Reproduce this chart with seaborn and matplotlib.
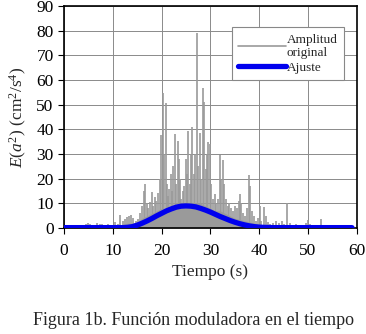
import numpy as np
import pandas as pd
import matplotlib
matplotlib.use('Agg')
import matplotlib.pyplot as plt
import seaborn as sns
from matplotlib.lines import Line2D

# picos de la amplitud original (tiempo s, E(a^2))
pico_t = [1.2, 2.5, 3.8, 4.6, 5.0, 5.4, 6.3, 6.8, 7.3, 7.8, 8.4, 9.1, 9.8, 10.4, 11.0,
          11.5, 12.1, 12.5, 12.9, 13.3, 13.7, 14.2, 14.7, 15.2, 15.6, 16.0, 16.3, 16.6,
          16.9, 17.3, 17.7, 18.0, 18.3, 18.6, 18.9, 19.3, 19.6, 19.9, 20.2, 20.5, 20.8,
          21.1, 21.4, 21.6, 21.9, 22.2, 22.4, 22.7, 23.0, 23.3, 23.5, 23.7, 24.0, 24.3,
          24.6, 24.9, 25.2, 25.5, 25.8, 26.0, 26.3, 26.6, 26.9, 27.2, 27.5, 27.9, 28.1,
          28.4, 28.7, 29.0, 29.3, 29.6, 29.9, 30.2, 30.5, 30.9, 31.2, 31.6, 32.0, 32.2,
          32.5, 32.8, 33.1, 33.5, 33.9, 34.3, 34.7, 35.0, 35.4, 35.8, 36.0, 36.3, 36.7,
          37.1, 37.5, 37.9, 38.2, 38.5, 38.9, 39.3, 39.7, 40.1, 40.4, 40.9, 41.3, 41.8,
          42.3, 42.8, 43.5, 44.1, 44.7, 45.1, 45.6, 46.2, 46.8, 47.5, 48.2, 48.9, 49.5,
          50.0, 50.5, 51.2, 51.9, 52.6, 53.2, 53.9, 54.6, 55.4, 56.1, 57.0, 58.0]
pico_v = [0.8, 0.6, 1.0, 1.8, 2.2, 1.6, 1.2, 2.0, 1.5, 1.8, 1.3, 1.6, 1.0, 2.4, 1.5,
          5.3, 3.0, 3.8, 4.5, 4.8, 5.5, 4.0, 3.0, 3.5, 6.0, 9.0, 15.0, 18.0,
          10.0, 8.0, 10.5, 14.7, 9.0, 12.8, 11.0, 14.3, 20.0, 37.7, 54.7, 30.0, 50.7,
          18.0, 13.0, 16.0, 22.0, 15.0, 25.0, 38.0, 18.0, 35.4, 28.0, 20.0, 12.0, 15.0,
          17.0, 28.0, 22.0, 39.5, 18.0, 30.0, 41.0, 22.0, 30.0, 79.0, 25.0, 38.7, 20.0,
          56.6, 51.0, 24.0, 30.0, 35.0, 34.0, 18.0, 12.0, 14.0, 10.0, 12.0, 29.6, 20.0,
          27.5, 18.0, 12.0, 9.0, 10.0, 8.0, 7.0, 9.0, 8.0, 11.0, 14.0, 10.0, 6.0,
          5.0, 8.0, 21.5, 17.0, 7.0, 5.0, 3.0, 4.0, 9.0, 3.0, 8.5, 5.0, 2.5,
          1.5, 2.0, 2.8, 2.2, 3.0, 1.5, 10.0, 2.0, 1.2, 1.5, 1.0, 1.4, 2.0,
          3.2, 1.6, 1.0, 1.2, 3.6, 1.4, 1.0, 1.2, 1.0, 0.8, 0.8, 0.6]

# fondo denso de la señal (cada 1 s)
fondo_t = list(range(0, 60))
fondo_v = [0.5, 0.5, 0.5, 0.5, 0.6, 0.6, 0.6, 0.6, 0.6, 0.6, 0.6, 0.8, 1.5, 2.0, 2.0,
           2.5, 4.0, 5.0, 6.0, 7.0, 8.0, 8.0, 9.0, 9.0, 10.0, 10.0, 10.0, 10.0, 10.0,
           9.0, 8.0, 7.0, 7.0, 6.0, 5.0, 4.0, 3.5, 3.0, 2.5, 2.0, 1.5, 1.2, 1.0, 0.8,
           0.8, 0.7, 0.7, 0.7, 0.6, 0.6, 0.6, 0.6, 0.6, 0.5, 0.5, 0.5, 0.5, 0.5, 0.5, 0.5]

# curva de ajuste
ajuste_t = list(range(0, 60))
ajuste_v = [0.2, 0.2, 0.2, 0.2, 0.2, 0.2, 0.2, 0.2, 0.2, 0.2, 0.2, 0.2, 0.2, 0.3, 0.6,
            1.2, 2.0, 2.9, 3.9, 5.0, 6.0, 7.0, 7.8, 8.5, 8.9, 9.0, 8.9, 8.6, 8.0,
            7.3, 6.5, 5.6, 4.7, 3.9, 3.1, 2.4, 1.8, 1.3, 0.9, 0.6, 0.4, 0.3, 0.25,
            0.2, 0.2, 0.2, 0.2, 0.2, 0.2, 0.2, 0.2, 0.2, 0.2, 0.2, 0.2, 0.2, 0.2, 0.2, 0.2, 0.2]

sns.set_style('ticks')
plt.rcParams['font.family'] = ['Liberation Serif', 'DejaVu Serif']
plt.rcParams['mathtext.fontset'] = 'custom'
plt.rcParams['mathtext.rm'] = 'Liberation Serif'
plt.rcParams['mathtext.it'] = 'Liberation Serif:italic'

fig = plt.figure(figsize=(3.66, 3.34), dpi=100)
ax = fig.add_axes([0.175, 0.317, 0.80, 0.665])

gris = '#9a9a9a'
ax.fill_between(fondo_t, 0, fondo_v, color=gris, linewidth=0, zorder=2)
ax.vlines(pico_t, 0, pico_v, color=gris, linewidth=1.2, zorder=2)

df = pd.DataFrame({'t': ajuste_t, 'E': ajuste_v})
sns.lineplot(data=df, x='t', y='E', color='#0000ee', linewidth=3.8, ax=ax, zorder=3)

ax.set_xlim(0, 60)
ax.set_ylim(0, 90)
ax.set_xticks(range(0, 61, 10))
ax.set_yticks(range(0, 91, 10))
ax.grid(True, color='#8a8a8a', linewidth=0.7)
ax.set_axisbelow(True)
for s in ax.spines.values():
    s.set_color('black')
    s.set_linewidth(1.2)
ax.tick_params(labelsize=12.5, length=4, width=0.8, colors='black', direction='out')
ax.tick_params(axis='x', pad=7)

ax.set_xlabel('Tiempo (s)', fontsize=12.5, labelpad=3)
ax.set_ylabel(r'$E(a^2)$ (cm$^2$/s$^4$)', fontsize=12.5, labelpad=5)

handles = [Line2D([], [], color=gris, linewidth=1.2),
           Line2D([], [], color='#0000ee', linewidth=3.8)]
leg = ax.legend(handles, ['Amplitud\noriginal', 'Ajuste'], loc='upper right',
                bbox_to_anchor=(0.98, 0.935), fontsize=9.5, fancybox=False,
                framealpha=1, edgecolor='#888888', handlelength=3.6,
                handletextpad=0.1, borderpad=0.5, labelspacing=0.15)
leg.get_frame().set_linewidth(0.8)

fig.text(0.53, 0.015, 'Figura 1b. Función moduladora en el tiempo',
         ha='center', va='bottom', fontsize=13)

fig.savefig('out.png', dpi=100)
